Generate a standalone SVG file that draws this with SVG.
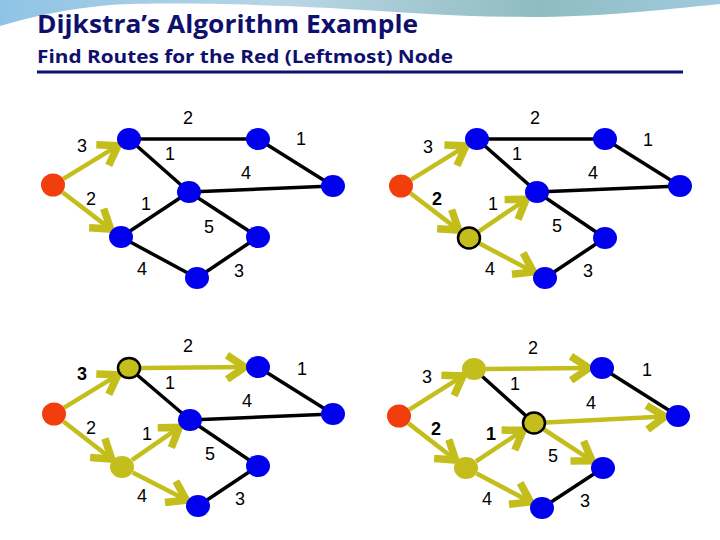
<svg xmlns="http://www.w3.org/2000/svg" width="720" height="540" viewBox="0 0 720 540">
<defs>
<linearGradient id="hdr" x1="0" y1="0" x2="1" y2="0">
<stop offset="0" stop-color="#8fc3e6"/>
<stop offset="0.4" stop-color="#b9d6e4"/>
<stop offset="0.75" stop-color="#8fbcc0"/>
<stop offset="1" stop-color="#9fcbe0"/>
</linearGradient>
<marker id="ah" markerUnits="userSpaceOnUse" markerWidth="30" markerHeight="30" viewBox="-16 -10 20 20" refX="0" refY="0" orient="auto">
<path d="M-12,-8 L0,0 L-12,8" fill="none" stroke="#c4be1c" stroke-width="5" stroke-linejoin="miter"/>
</marker>
</defs>
<style>
.e{stroke:#000;stroke-width:3.5;fill:none}
.a{stroke:#c4be1c;stroke-width:4.5;fill:none;marker-end:url(#ah)}
.b{fill:#0000ee}
.r{fill:#f23d0c}
.y{fill:#c4be1c}
.yo{fill:#c4be1c;stroke:#000;stroke-width:2.5}
.t{font-family:"Liberation Sans",Arial,sans-serif;font-size:18px;fill:#000;text-anchor:middle}
.tb{font-weight:bold}
.h1{font-family:"Open Sans","Liberation Sans",sans-serif;font-weight:bold;font-size:25px;fill:#0f0f6e}
.h2{font-family:"Open Sans","Liberation Sans",sans-serif;font-weight:bold;font-size:18px;fill:#0f0f6e}
</style>
<rect width="720" height="540" fill="#fff"/>
<path d="M0,0 H720 V4 C660,10 600,17 530,17 C460,17 400,12 330,8 C250,4 160,2 110,5 C65,9 30,17 0,26 Z" fill="url(#hdr)"/>
<text class="h1" x="37" y="33" textLength="381" lengthAdjust="spacingAndGlyphs">Dijkstra’s Algorithm Example</text>
<text class="h2" x="37" y="63" textLength="416" lengthAdjust="spacingAndGlyphs">Find Routes for the Red (Leftmost) Node</text>
<line x1="37" y1="72" x2="683" y2="72" stroke="#0f0f6e" stroke-width="3"/>

<g id="connectors">
<line class="e" x1="129" y1="139" x2="258" y2="139"/>
<line class="e" x1="129" y1="139" x2="189" y2="192"/>
<line class="e" x1="258" y1="139" x2="333" y2="186"/>
<line class="e" x1="189" y1="192" x2="333" y2="186"/>
<line class="e" x1="189" y1="192" x2="121" y2="237"/>
<line class="e" x1="189" y1="192" x2="258" y2="237"/>
<line class="e" x1="121" y1="237" x2="197" y2="278"/>
<line class="e" x1="197" y1="278" x2="258" y2="237"/>
<line class="a" x1="63.3" y1="178.8" x2="117.9" y2="145.7"/>
<line class="a" x1="62.5" y1="192.3" x2="110.7" y2="229.1"/>
<line class="e" x1="477" y1="139" x2="605" y2="139"/>
<line class="e" x1="477" y1="139" x2="537" y2="192"/>
<line class="e" x1="605" y1="139" x2="680" y2="186"/>
<line class="e" x1="537" y1="192" x2="680" y2="186"/>
<line class="e" x1="537" y1="192" x2="605" y2="238"/>
<line class="e" x1="545" y1="278" x2="605" y2="238"/>
<line class="a" x1="411.2" y1="179.7" x2="466" y2="145.8"/>
<line class="a" x1="410.5" y1="193.3" x2="458.7" y2="230.1"/>
<line class="a" x1="478.9" y1="231.3" x2="526.2" y2="199.3"/>
<line class="a" x1="479.6" y1="243.6" x2="533.5" y2="271.9"/>
<line class="e" x1="129" y1="368" x2="190" y2="420"/>
<line class="e" x1="258" y1="367" x2="333" y2="414"/>
<line class="e" x1="190" y1="420" x2="333" y2="414"/>
<line class="e" x1="190" y1="420" x2="258" y2="466"/>
<line class="e" x1="198" y1="506" x2="258" y2="466"/>
<line class="a" x1="64.2" y1="407.7" x2="117.9" y2="374.8"/>
<line class="a" x1="63.5" y1="421.4" x2="111.7" y2="459"/>
<line class="a" x1="131.9" y1="460.2" x2="179.3" y2="427.4"/>
<line class="a" x1="132.7" y1="472.5" x2="186.4" y2="500.1"/>
<line class="a" x1="141" y1="368" x2="245" y2="367.1"/>
<line class="e" x1="474" y1="369" x2="534" y2="423"/>
<line class="e" x1="602" y1="368" x2="678" y2="416"/>
<line class="e" x1="542" y1="508" x2="603" y2="468"/>
<line class="a" x1="409.2" y1="409.6" x2="463" y2="375.9"/>
<line class="a" x1="408.5" y1="423.4" x2="455.7" y2="460"/>
<line class="a" x1="476" y1="461.4" x2="523.2" y2="430.2"/>
<line class="a" x1="476.6" y1="473.6" x2="530.5" y2="501.9"/>
<line class="a" x1="486" y1="368.9" x2="589" y2="368.1"/>
<line class="a" x1="546" y1="422.4" x2="665" y2="416.6"/>
<line class="a" x1="544" y1="429.5" x2="592.1" y2="460.9"/>
</g>

<g id="labels1">
<text class="t" x="188" y="124">2</text>
<text class="t" x="301" y="145">1</text>
<text class="t" x="82" y="152">3</text>
<text class="t" x="170" y="160">1</text>
<text class="t" x="246" y="179">4</text>
<text class="t" x="91" y="205">2</text>
<text class="t" x="146" y="210">1</text>
<text class="t" x="209" y="233">5</text>
<text class="t" x="142" y="275">4</text>
<text class="t" x="239" y="277">3</text>
</g>
<g id="labels2">
<text class="t" x="535" y="124">2</text>
<text class="t" x="648" y="146">1</text>
<text class="t" x="428" y="153">3</text>
<text class="t" x="517" y="160">1</text>
<text class="t" x="593" y="179">4</text>
<text class="t tb" x="437" y="205">2</text>
<text class="t" x="493" y="210">1</text>
<text class="t" x="557" y="232">5</text>
<text class="t" x="490" y="275">4</text>
<text class="t" x="588" y="277">3</text>
</g>
<g id="labels3">
<text class="t" x="188" y="352">2</text>
<text class="t" x="302" y="375">1</text>
<text class="t tb" x="82" y="380">3</text>
<text class="t" x="170" y="389">1</text>
<text class="t" x="247" y="407">4</text>
<text class="t" x="91" y="434">2</text>
<text class="t" x="147" y="440">1</text>
<text class="t" x="210" y="460">5</text>
<text class="t" x="142" y="502">4</text>
<text class="t" x="240" y="505">3</text>
</g>
<g id="labels4">
<text class="t" x="533" y="354">2</text>
<text class="t" x="647" y="376">1</text>
<text class="t" x="427" y="383">3</text>
<text class="t" x="515" y="390">1</text>
<text class="t" x="591" y="409">4</text>
<text class="t tb" x="436" y="435">2</text>
<text class="t tb" x="491" y="440">1</text>
<text class="t" x="553" y="462">5</text>
<text class="t" x="487" y="505">4</text>
<text class="t" x="585" y="507">3</text>
</g>

<g id="g1-R"><ellipse class="r" cx="53" cy="185" rx="12" ry="11.5"/></g>
<g id="g1-A"><ellipse class="b" cx="129" cy="139" rx="12" ry="11"/></g>
<g id="g1-B"><ellipse class="b" cx="258" cy="139" rx="12" ry="11"/></g>
<g id="g1-C"><ellipse class="b" cx="333" cy="186" rx="12" ry="11"/></g>
<g id="g1-D"><ellipse class="b" cx="189" cy="192" rx="12" ry="11"/></g>
<g id="g1-E"><ellipse class="b" cx="121" cy="237" rx="12" ry="11"/></g>
<g id="g1-F"><ellipse class="b" cx="258" cy="237" rx="12" ry="11"/></g>
<g id="g1-G"><ellipse class="b" cx="197" cy="278" rx="12" ry="11"/></g>

<g id="g2-R"><ellipse class="r" cx="401" cy="186" rx="12" ry="11.5"/></g>
<g id="g2-A"><ellipse class="b" cx="477" cy="139" rx="12" ry="11"/></g>
<g id="g2-B"><ellipse class="b" cx="605" cy="139" rx="12" ry="11"/></g>
<g id="g2-C"><ellipse class="b" cx="680" cy="186" rx="12" ry="11"/></g>
<g id="g2-D"><ellipse class="b" cx="537" cy="192" rx="12" ry="11"/></g>
<g id="g2-E"><ellipse class="yo" cx="469" cy="238" rx="11" ry="10.5"/></g>
<g id="g2-F"><ellipse class="b" cx="605" cy="238" rx="12" ry="11"/></g>
<g id="g2-G"><ellipse class="b" cx="545" cy="278" rx="12" ry="11"/></g>

<g id="g3-R"><ellipse class="r" cx="54" cy="414" rx="12" ry="11.5"/></g>
<g id="g3-A"><ellipse class="yo" cx="129" cy="368" rx="11" ry="10"/></g>
<g id="g3-B"><ellipse class="b" cx="258" cy="367" rx="12" ry="11"/></g>
<g id="g3-C"><ellipse class="b" cx="333" cy="414" rx="12" ry="11"/></g>
<g id="g3-D"><ellipse class="b" cx="190" cy="420" rx="12" ry="11"/></g>
<g id="g3-E"><ellipse class="y" cx="122" cy="467" rx="12" ry="11"/></g>
<g id="g3-F"><ellipse class="b" cx="258" cy="466" rx="12" ry="11"/></g>
<g id="g3-G"><ellipse class="b" cx="198" cy="506" rx="12" ry="11"/></g>

<g id="g4-R"><ellipse class="r" cx="399" cy="416" rx="12" ry="11.5"/></g>
<g id="g4-A"><ellipse class="y" cx="474" cy="369" rx="12" ry="11"/></g>
<g id="g4-B"><ellipse class="b" cx="602" cy="368" rx="12" ry="11"/></g>
<g id="g4-C"><ellipse class="b" cx="678" cy="416" rx="12" ry="11"/></g>
<g id="g4-D"><ellipse class="yo" cx="534" cy="423" rx="11" ry="10.5"/></g>
<g id="g4-E"><ellipse class="y" cx="466" cy="468" rx="12" ry="11"/></g>
<g id="g4-F"><ellipse class="b" cx="603" cy="468" rx="12" ry="11"/></g>
<g id="g4-G"><ellipse class="b" cx="542" cy="508" rx="12" ry="11"/></g>
</svg>
